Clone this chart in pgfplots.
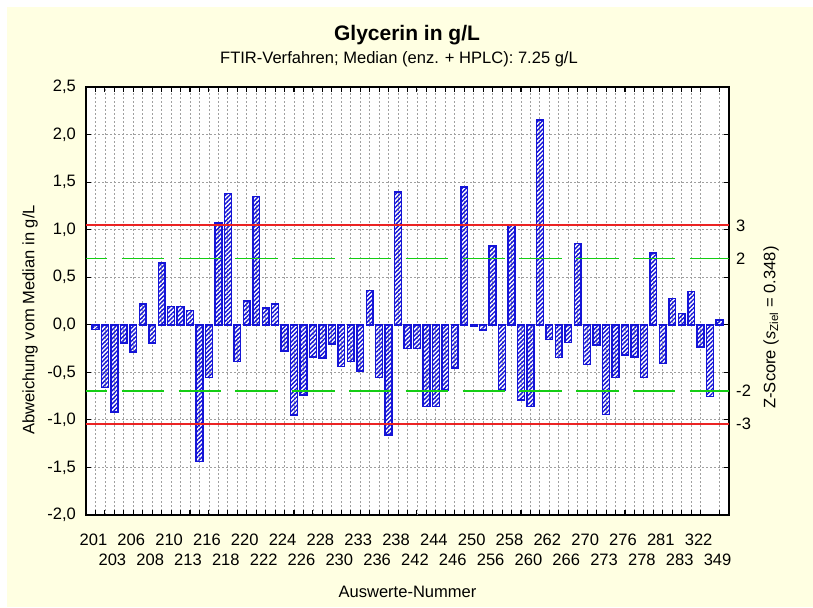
\documentclass[border=0pt]{standalone}
\usepackage{fontspec}
\setmainfont{Liberation Sans}
\usepackage{pgfplots}
\usepackage{pgfplotstable}
\pgfplotsset{compat=1.18}
\usetikzlibrary{patterns,patterns.meta}
\definecolor{bgy}{RGB}{255,255,226}
\definecolor{barblue}{RGB}{20,20,215}
\definecolor{refred}{RGB}{235,35,35}
\definecolor{refgreen}{RGB}{20,205,20}
\definecolor{gridgray}{RGB}{160,160,160}
\newcommand{\lbl}{\fontsize{12.4}{14}\selectfont}

\pgfplotstableread{
x y
0 -0.05
1 -0.66
2 -0.915
3 -0.19
4 -0.285
5 0.22
6 -0.19
7 0.65
8 0.19
9 0.19
10 0.15
11 -1.44
12 -0.556
13 1.07
14 1.38
15 -0.384
16 0.25
17 1.35
18 0.176
19 0.22
20 -0.275
21 -0.95
22 -0.736
23 -0.34
24 -0.35
25 -0.20
26 -0.44
27 -0.384
28 -0.486
29 0.36
30 -0.556
31 -1.16
32 1.394
33 -0.25
34 -0.25
35 -0.86
36 -0.86
37 -0.687
38 -0.454
39 1.45
40 -0.02
41 -0.053
42 0.83
43 -0.687
44 1.05
45 -0.79
46 -0.86
47 2.155
48 -0.155
49 -0.345
50 -0.187
51 0.852
52 -0.42
53 -0.215
54 -0.944
55 -0.556
56 -0.317
57 -0.338
58 -0.556
59 0.754
60 -0.408
61 0.278
62 0.12
63 0.349
64 -0.232
65 -0.754
66 0.05
}\devs

\begin{document}
\begin{tikzpicture}
\useasboundingbox (0,0) rectangle (609.75pt,455.25pt);
\fill[white] (0,0) rectangle (609.75pt,455.25pt);
\fill[bgy] (5.25pt,0) rectangle (609.75pt,450pt);
\begin{axis}[
  at={(64.5pt,69pt)}, anchor=south west,
  scale only axis, width=482.25pt, height=321pt,
  xmin=-1, xmax=67, ymin=-2, ymax=2.5,
  axis background/.style={fill=white},
  axis line style={line width=1.2pt, black},
  tick style={black, line width=0.8pt},
  major tick length=3.75pt, minor tick length=3.75pt,
  xtick={0,4,...,64},
  xticklabels={201,206,210,216,220,224,228,233,238,244,250,258,262,270,276,281,322},
  minor x tick num=3,
  extra x ticks={2,6,...,66},
  extra x tick labels={203,208,213,218,222,226,230,236,242,246,256,260,266,273,278,283,349},
  extra x tick style={xticklabel style={yshift=-15pt}},
  xticklabel style={font=\lbl, anchor=base, yshift=-22.5pt, xshift=-1.5pt},
  ytick={-2,-1.5,-1,-0.5,0,0.5,1,1.5,2,2.5},
  yticklabels={{-2,0},{-1,5},{-1,0},{-0,5},{0,0},{0,5},{1,0},{1,5},{2,0},{2,5}},
  yticklabel style={font=\lbl, anchor=east, xshift=-4.1pt},
  grid=both,
  major grid style={gridgray, dash pattern=on 1.5pt off 1.5pt, line width=0.6pt},
  minor grid style={gridgray, dash pattern=on 1.5pt off 1.5pt, line width=0.6pt},
  xlabel={Auswerte-Nummer},
  every axis x label/.style={at={(axis description cs:0.5,-0.1916)}, anchor=base, font=\lbl},
  ylabel={Abweichung vom Median in g/L},
  every axis y label/.style={at={(axis description cs:-0.0871,0.4556)}, rotate=90, anchor=center, font=\lbl},
]
\addplot[ybar, bar width=0.72, draw=barblue, line width=1.1pt, pattern={Lines[angle=45,distance=2.3pt,line width=1.05pt]}, pattern color=barblue] table[x=x,y=y] {\devs};
\end{axis}
\begin{axis}[
  at={(64.5pt,69pt)}, anchor=south west,
  scale only axis, width=482.25pt, height=321pt,
  xmin=-1, xmax=67, ymin=-2, ymax=2.5,
  hide x axis, axis y line*=right,
  axis line style={line width=1.2pt, black},
  major tick length=0pt,
  ytick={-1.044,-0.696,0.696,1.044},
  yticklabels={-3,-2,2,3},
  yticklabel style={font=\lbl, anchor=west, xshift=1.9pt},
  ylabel={Z-Score (\textit{s}\textsubscript{Ziel} = 0.348)},
  every axis y label/.style={at={(axis description cs:1.0653,0.438)}, rotate=90, anchor=center, font=\lbl},
]
\addplot[draw=refgreen, line width=1.1pt, dash pattern=on 31.9pt off 10.7pt, dash phase=15.8pt] coordinates {(-1,0.696) (67,0.696)};
\addplot[draw=refgreen, line width=1.1pt, dash pattern=on 31.9pt off 10.7pt, dash phase=15.8pt] coordinates {(-1,-0.696) (67,-0.696)};
\addplot[draw=refred, line width=1.5pt] coordinates {(-1,-1.044) (67,-1.044)};
\addplot[draw=refred, line width=1.5pt] coordinates {(-1,1.044) (67,1.044)};
\end{axis}
\node[anchor=base, font=\fontsize{15.75}{18}\selectfont\bfseries] at (305.25pt,424.5pt) {Glycerin in g/L};
\node[anchor=base, font=\lbl] at (299.25pt,407.25pt) {FTIR-Verfahren; Median (enz. + HPLC): 7.25 g/L};
\end{tikzpicture}
\end{document}
